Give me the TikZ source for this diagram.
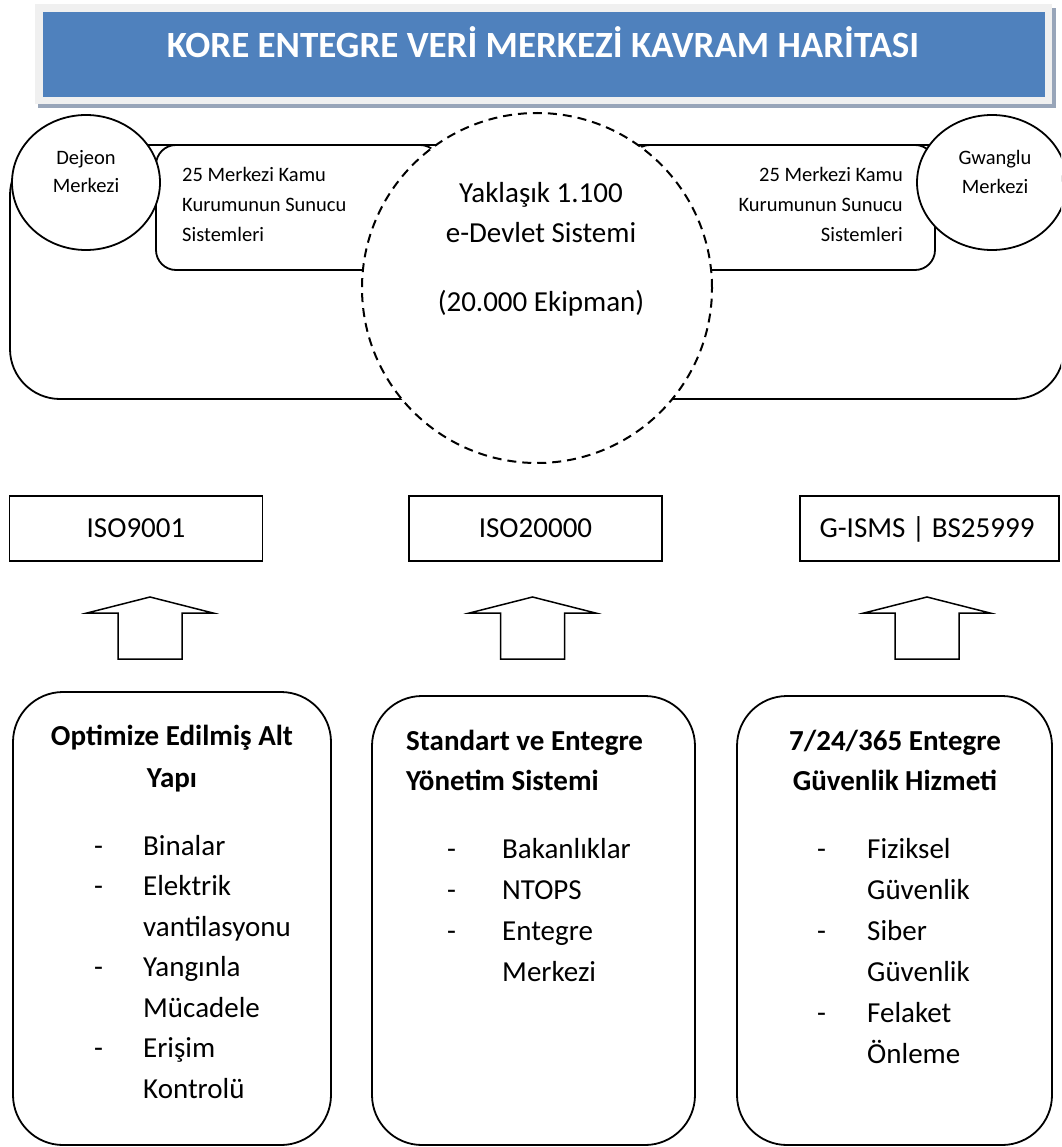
\documentclass[tikz,border=0pt]{standalone}
\usepackage{fontspec}
\setmainfont{Carlito}
\usetikzlibrary{shapes.geometric}
\definecolor{bannerblue}{HTML}{4F81BD}
\definecolor{bannerframe}{HTML}{F0F0F0}
\definecolor{bannershadow}{HTML}{98A5B9}
\begin{document}
\begin{tikzpicture}[x=1pt,y=-1pt,
  outline/.style={draw=black, line width=1.8pt, fill=white, inner sep=0pt},
  stdbox/.style={draw=black, line width=1.5pt, fill=white, inner sep=0pt, minimum height=65pt},
  blockarrow/.style={draw=black, line width=1.5pt, fill=white, line join=miter},
  body/.style={font=\fontsize{29pt}{35pt}\selectfont, inner sep=0pt},
  bodybold/.style={font=\fontsize{29pt}{35pt}\selectfont\bfseries, inner sep=0pt},
  small/.style={font=\fontsize{20.5pt}{25pt}\selectfont, inner sep=0pt},
  titletext/.style={font=\fontsize{37pt}{44pt}\selectfont\bfseries, text=white, inner sep=0pt}
]
\useasboundingbox (0,0) rectangle (1061,1147);
\clip (0,0) rectangle (1061,1147);

% title banner
\fill[bannershadow] (38,8) rectangle (1056,108);
\fill[bannerframe] (35,4) rectangle (1052,104);
\node[fill=bannerblue, inner sep=0pt, minimum width=1002pt, minimum height=85pt] (banner) at (544,54.5) {};
\node[titletext, anchor=base] (title) at (543,58) {KORE ENTEGRE VERİ MERKEZİ KAVRAM HARİTASI};

% upper group: frame, server boxes, centres and e-government circle
\node[outline, rounded corners=50pt, minimum width=1054pt, minimum height=254pt] (frame) at (537,272) {};
\node[outline, rounded corners=20pt, minimum width=284pt, minimum height=125pt] (serversL) at (298,207.5) {};
\node[outline, rounded corners=20pt, minimum width=305pt, minimum height=125pt] (serversR) at (782.5,207.5) {};
\node[outline, ellipse, minimum width=148pt, minimum height=135pt] (dejeon) at (86,182.5) {};
\node[outline, ellipse, minimum width=150pt, minimum height=135pt] (gwanglu) at (992,182.5) {};
\node[outline, circle, dash pattern=on 9pt off 6pt, line width=2pt, minimum size=350pt] (egov) at (537,288) {};

\node[small, anchor=base] (dejeonA) at (86,165) {Dejeon};
\node[small, anchor=base] (dejeonB) at (86,193) {Merkezi};
\node[small, anchor=base] (gwangluA) at (995,165) {Gwanglu};
\node[small, anchor=base] (gwangluB) at (995,194) {Merkezi};

\node[small, anchor=base west] (sLa) at (182,181.7) {25 Merkezi Kamu};
\node[small, anchor=base west] (sLb) at (182,211.7) {Kurumunun Sunucu};
\node[small, anchor=base west] (sLc) at (182,241.7) {Sistemleri};
\node[small, anchor=base east] (sRa) at (903,181.7) {25 Merkezi Kamu};
\node[small, anchor=base east] (sRb) at (903,211.7) {Kurumunun Sunucu};
\node[small, anchor=base east] (sRc) at (903,241.7) {Sistemleri};

\node[body, anchor=base] (egovA) at (541,203) {Yaklaşık 1.100};
\node[body, anchor=base] (egovB) at (541,243) {e-Devlet Sistemi};
\node[body, anchor=base] (egovC) at (541,312) {(20.000 Ekipman)};

% standards
\node[stdbox, minimum width=253pt] (iso9001) at (136,528.5) {};
\node[stdbox, minimum width=253pt] (iso20000) at (535.5,528.5) {};
\node[stdbox, minimum width=259pt] (gisms) at (929.5,528.5) {};
\node[body, anchor=base] (iso9001t) at (136,537.5) {ISO9001};
\node[body, anchor=base] (iso20000t) at (535.5,537.5) {ISO20000};
\node[body, anchor=base] (gismst) at (927,537.5) {G-ISMS | BS25999};

% upward block arrows
\foreach \cx in {150,532.5,927}{
  \draw[blockarrow] (\cx,597) -- (\cx+63,613) -- (\cx+32,613) -- (\cx+32,659)
    -- (\cx-32,659) -- (\cx-32,613) -- (\cx-63,613) -- cycle;
}

% pillar boxes
\node[outline, rounded corners=50pt, minimum width=318pt, minimum height=453pt] (infra) at (172,918.5) {};
\node[outline, rounded corners=50pt, minimum width=323pt, minimum height=449pt] (mgmt) at (533.5,920.5) {};
\node[outline, rounded corners=50pt, minimum width=315pt, minimum height=449pt] (sec) at (894.5,920.5) {};

% infrastructure
\node[bodybold, anchor=base] (infraA) at (172,745) {Optimize Edilmiş Alt};
\node[bodybold, anchor=base] (infraB) at (172,787) {Yapı};
\foreach \y/\t [count=\i] in {855/Binalar,895.5/Elektrik,936/vantilasyonu,976.5/Yangınla,1017/Mücadele,1057.5/Erişim,1098/Kontrolü}
  \node[body, anchor=base west] (infraL\i) at (143,\y) {\t};
\foreach \y [count=\i] in {855,895.5,976.5,1057.5}
  \node[body, anchor=base west] (infraD\i) at (94,\y) {-};

% management
\node[bodybold, anchor=base west] (mgmtA) at (406,750) {Standart ve Entegre};
\node[bodybold, anchor=base west] (mgmtB) at (406,790) {Yönetim Sistemi};
\foreach \y/\t [count=\i] in {858/Bakanlıklar,899/NTOPS,940/Entegre,981/Merkezi}
  \node[body, anchor=base west] (mgmtL\i) at (502,\y) {\t};
\foreach \y [count=\i] in {858,899,940}
  \node[body, anchor=base west] (mgmtD\i) at (447,\y) {-};

% security
\node[bodybold, anchor=base] (secA) at (895,750) {7/24/365 Entegre};
\node[bodybold, anchor=base] (secB) at (895,790) {Güvenlik Hizmeti};
\foreach \y/\t [count=\i] in {858/Fiziksel,899/Güvenlik,940/Siber,981/Güvenlik,1022/Felaket,1063/Önleme}
  \node[body, anchor=base west] (secL\i) at (867,\y) {\t};
\foreach \y [count=\i] in {858,940,1022}
  \node[body, anchor=base west] (secD\i) at (817,\y) {-};
\end{tikzpicture}
\end{document}
